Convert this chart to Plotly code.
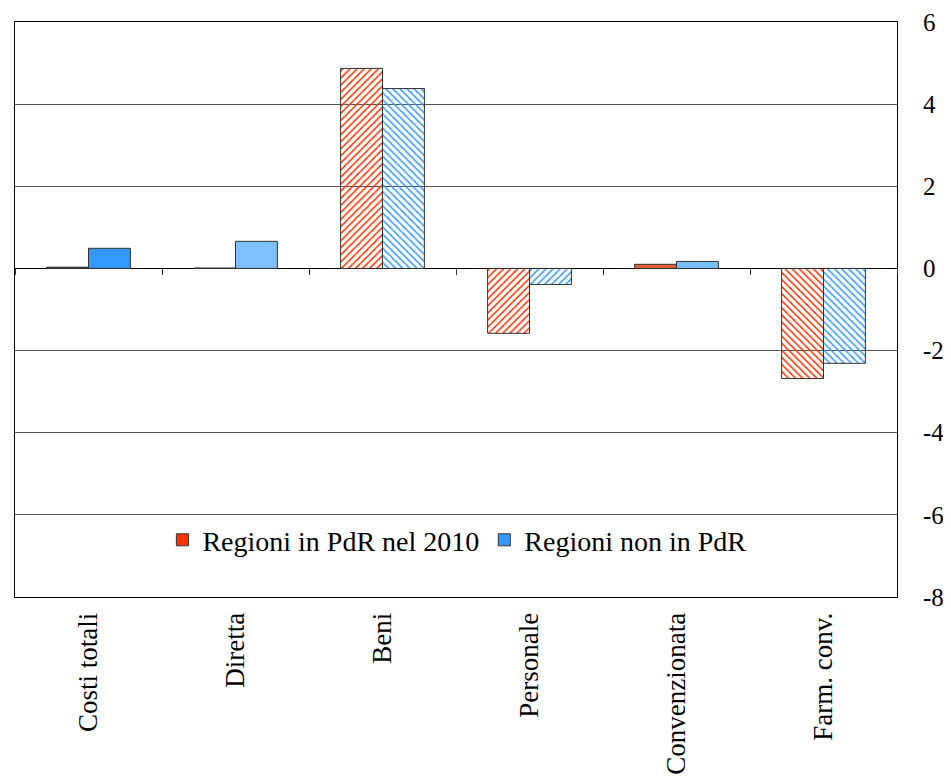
import plotly.graph_objects as go

categories = ["Costi totali", "Diretta", "Beni", "Personale", "Convenzionata", "Farm. conv."]
pdr_2010 = [0.03, 0.01, 4.87, -1.58, 0.10, -2.68]
non_pdr = [0.49, 0.66, 4.38, -0.39, 0.17, -2.31]
series_names = ["Regioni in PdR nel 2010", "Regioni non in PdR"]
y_ticks = [6, 4, 2, 0, -2, -4, -6, -8]

RED = "#FF3300"
BLUE = "#3399FF"
red_fill = ["#1a1a1a", "#9a9a9a", RED, RED, "#E8603A", RED]
blue_fill = [BLUE, "#7DBFFF", BLUE, BLUE, "#7CC0FF", BLUE]
red_shapes = ["", "", "/", "/", "", "\\"]
blue_shapes = ["", "", "\\", "/", "", "\\"]

FONT = "Times New Roman, Liberation Serif, Tinos, serif"

fig = go.Figure()

fig.add_trace(go.Bar(
    x=categories, y=pdr_2010, name=series_names[0], showlegend=False,
    marker=dict(color=red_fill, line=dict(color="#333333", width=1),
                pattern=dict(shape=red_shapes, fgcolor=RED, bgcolor="white",
                             size=5, solidity=0.3, fillmode="replace")),
))
fig.add_trace(go.Bar(
    x=categories, y=non_pdr, name=series_names[1], showlegend=False,
    marker=dict(color=blue_fill, line=dict(color="#333333", width=1),
                pattern=dict(shape=blue_shapes, fgcolor=BLUE, bgcolor="white",
                             size=5, solidity=0.3, fillmode="replace")),
))
# legend entries (solid swatches) on the overlay axis so they do not affect grouping
fig.add_trace(go.Bar(x=categories, y=[None] * len(categories), name=series_names[0],
                     xaxis="x2", hoverinfo="skip",
                     marker=dict(color=RED, line=dict(color="#333333", width=1))))
fig.add_trace(go.Bar(x=categories, y=[None] * len(categories), name=series_names[1],
                     xaxis="x2", hoverinfo="skip",
                     marker=dict(color=BLUE, line=dict(color="#333333", width=1))))

ymin, ymax = -8, 6
fig.update_layout(
    width=943, height=770,
    margin=dict(l=7, r=54, t=14, b=181, autoexpand=False),
    paper_bgcolor="white", plot_bgcolor="white",
    barmode="group", bargap=0.43, bargroupgap=0,
    font=dict(family=FONT, size=24, color="black"),
    showlegend=True,
    legend=dict(orientation="h", x=0.501, xanchor="center", y=0.099, yanchor="middle",
                bgcolor="rgba(0,0,0,0)", font=dict(family=FONT, size=28),
                itemwidth=30, traceorder="normal"),
    xaxis=dict(type="category", categoryorder="array", categoryarray=categories,
               range=[-0.5, len(categories) - 0.5], automargin=False,
               showline=True, linecolor="black", linewidth=1, mirror=True,
               showgrid=False, ticks="", tickangle=-90, ticklabelstandoff=4,
               tickfont=dict(family=FONT, size=27)),
    xaxis2=dict(type="category", categoryorder="array", categoryarray=categories,
                range=[-0.5, len(categories) - 0.5], overlaying="x", anchor="free",
                position=(0 - ymin) / (ymax - ymin), side="bottom", automargin=False,
                ticks="outside", ticklen=6, tickcolor="#333333", tickwidth=1,
                tickson="boundaries", showticklabels=False, showgrid=False,
                showline=False, zeroline=False),
    yaxis=dict(range=[ymin, ymax], tickvals=y_ticks, ticktext=[str(v) for v in y_ticks],
               side="right", showgrid=True, gridcolor="#555555", gridwidth=1,
               zeroline=True, zerolinecolor="black", zerolinewidth=1, automargin=False,
               showline=True, linecolor="black", linewidth=1, mirror=True,
               ticks="", ticklabelstandoff=20,
               tickfont=dict(family=FONT, size=25)),
)

fig.write_html("out.html")
